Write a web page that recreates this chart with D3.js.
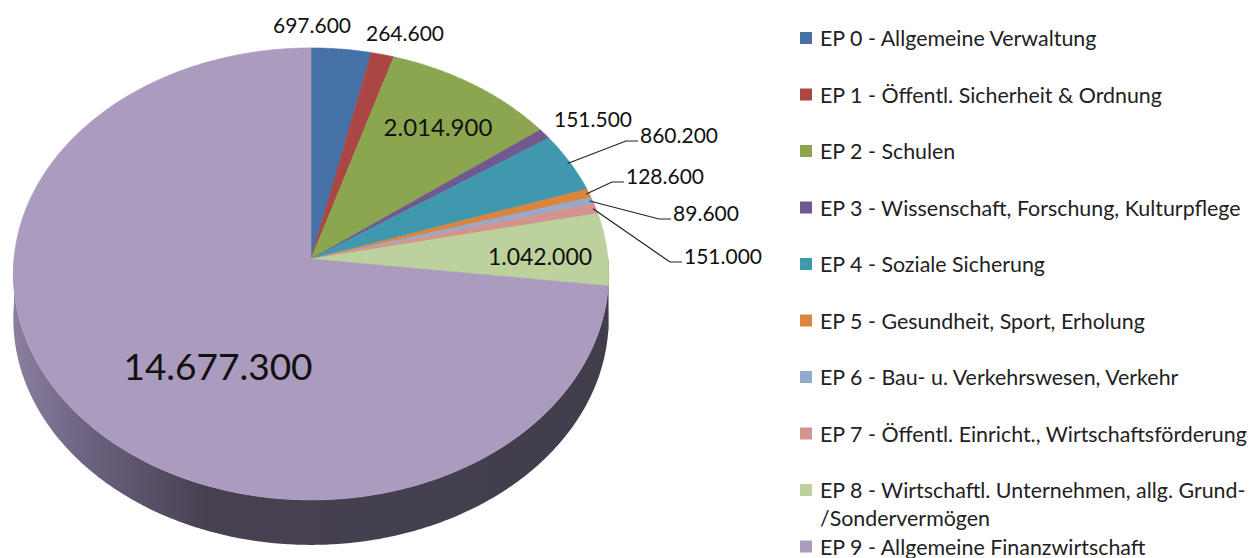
<!DOCTYPE html>
<html>
<head>
<meta charset="utf-8">
<script src="https://cdn.jsdelivr.net/npm/d3@7"></script>
<style>
  body { margin: 0; background: #fff; }
  svg { display: block; }
</style>
</head>
<body>
<svg width="1250" height="558"></svg>
<script>
// Einzelpläne (EP) und Beträge
var categories = [
  "EP 0 - Allgemeine Verwaltung",
  "EP 1 - Öffentl. Sicherheit & Ordnung",
  "EP 2 - Schulen",
  "EP 3 - Wissenschaft, Forschung, Kulturpflege",
  "EP 4 - Soziale Sicherung",
  "EP 5 - Gesundheit, Sport, Erholung",
  "EP 6 - Bau- u. Verkehrswesen, Verkehr",
  "EP 7 - Öffentl. Einricht., Wirtschaftsförderung",
  "EP 8 - Wirtschaftl. Unternehmen, allg. Grund-\n/Sondervermögen",
  "EP 9 - Allgemeine Finanzwirtschaft"
];
var values = [697600, 264600, 2014900, 151500, 860200, 128600, 89600, 151000, 1042000, 14677300];
var colors = ["#4571a7", "#aa4643", "#8ba64f", "#71588f", "#3f98ae", "#db843d", "#93a9cf", "#d1948f", "#bcd19b", "#aa9bbf"];

// label placement (centre of text) and which ones get leader lines
var labelPos = [[312, 24], [405, 32], [438, 126], [593, 118], [679, 134], [665, 175], [706, 212], [723, 255], [540, 256], [218, 365]];
var labelSize = [21, 21, 24, 21, 21, 21, 21, 21, 23, 37];
var leader = [false, false, false, false, true, true, true, true, false, false];

var svg = d3.select("svg");
var cx = 311, cy = 259, Sx = 297, Sy = 225, k = 0.066, depth = 45;
var font = "Lato, 'Open Sans', sans-serif";
var fmt = d3.formatLocale({ decimal: ",", thousands: ".", grouping: [3], currency: ["", "€"] }).format(",");

// simple perspective projection of the pie disc
function proj(a, r, dz) {
  r = r == null ? 1 : r;
  var u = r * Math.sin(a), w = r * Math.cos(a);
  var s = 1 / (1 + k * w);
  return [cx + Sx * u * s, cy - Sy * w * s + (dz || 0)];
}
function arcPts(a0, a1, dz) {
  var n = Math.max(2, Math.ceil((a1 - a0) / 0.01));
  return d3.range(n + 1).map(function (i) { return proj(a0 + (a1 - a0) * i / n, 1, dz); });
}

var pie = d3.pie().sort(null).value(function (d) { return d; });
var arcs = pie(values);

var defs = svg.append("defs");
var grad = defs.append("linearGradient").attr("id", "sideGrad")
  .attr("gradientUnits", "userSpaceOnUse").attr("x1", 14).attr("x2", 609).attr("y1", 0).attr("y2", 0);
grad.append("stop").attr("offset", "0%").attr("stop-color", "#8a809d");
grad.append("stop").attr("offset", "12%").attr("stop-color", "#6d6380");
grad.append("stop").attr("offset", "32%").attr("stop-color", "#474152");
grad.append("stop").attr("offset", "100%").attr("stop-color", "#423d4b");

var line = d3.line();

// sides (front half only)
svg.append("g").selectAll("path")
  .data(arcs.filter(function (d) { return d.endAngle > Math.PI / 2 && d.startAngle < 3 * Math.PI / 2; }))
  .enter().append("path")
  .attr("d", function (d) {
    var a0 = Math.max(d.startAngle, Math.PI / 2), a1 = Math.min(d.endAngle, 3 * Math.PI / 2);
    var top = arcPts(a0, a1, 0), bot = arcPts(a0, a1, depth).reverse();
    return line(top.concat(bot)) + "Z";
  })
  .attr("fill", function (d) { return d.index === 9 ? "url(#sideGrad)" : d3.color(colors[d.index]).darker(1.2); })
  .attr("stroke", function (d) { return d.index === 9 ? "none" : d3.color(colors[d.index]).darker(1.2); })
  .attr("stroke-width", 0.5);

// top faces
svg.append("g").selectAll("path")
  .data(arcs)
  .enter().append("path")
  .attr("d", function (d) {
    return line([[cx, cy]].concat(arcPts(d.startAngle, d.endAngle, 0))) + "Z";
  })
  .attr("fill", function (d) { return colors[d.index]; })
  .attr("stroke", function (d) { return colors[d.index]; })
  .attr("stroke-width", 0.6);

var leaderG = svg.append("g");

// data labels
var textWidth = [];
svg.append("g").selectAll("text")
  .data(arcs)
  .enter().append("text")
  .attr("x", function (d) { return labelPos[d.index][0]; })
  .attr("y", function (d) { return labelPos[d.index][1]; })
  .attr("text-anchor", "middle")
  .attr("dominant-baseline", "central")
  .attr("font-family", font)
  .attr("font-size", function (d) { return labelSize[d.index] + "px"; })
  .attr("fill", "#111")
  .text(function (d) { return fmt(d.value); })
  .each(function (d) { textWidth[d.index] = this.getComputedTextLength(); });

// leader lines
leaderG.selectAll("path")
  .data(arcs.filter(function (d) { return leader[d.index]; }))
  .enter().append("path")
  .attr("d", function (d) {
    var m = (d.startAngle + d.endAngle) / 2;
    var p = proj(m, 0.99);
    var lp = labelPos[d.index];
    var left = lp[0] - textWidth[d.index] / 2;
    return line([p, [left - 14, lp[1] + 7], [left - 2, lp[1] + 7]]);
  })
  .attr("fill", "none")
  .attr("stroke", "#222")
  .attr("stroke-width", 1.2);

// legend
var legend = svg.append("g").attr("transform", "translate(800,0)");
var rows = legend.selectAll("g")
  .data(categories)
  .enter().append("g")
  .attr("transform", function (d, i) { return "translate(0," + (38 + i * 56.5) + ")"; });
rows.append("rect")
  .attr("x", 0).attr("y", -6).attr("width", 12).attr("height", 12)
  .attr("fill", function (d, i) { return colors[i]; });
rows.append("text")
  .attr("font-family", font)
  .attr("font-size", "21.4px")
  .attr("fill", "#222")
  .selectAll("tspan")
  .data(function (d) { return d.split("\n"); })
  .enter().append("tspan")
  .attr("x", 20)
  .attr("y", function (d, i) { return i * 28; })
  .attr("dominant-baseline", "central")
  .text(function (d) { return d; });
</script>
</body>
</html>
